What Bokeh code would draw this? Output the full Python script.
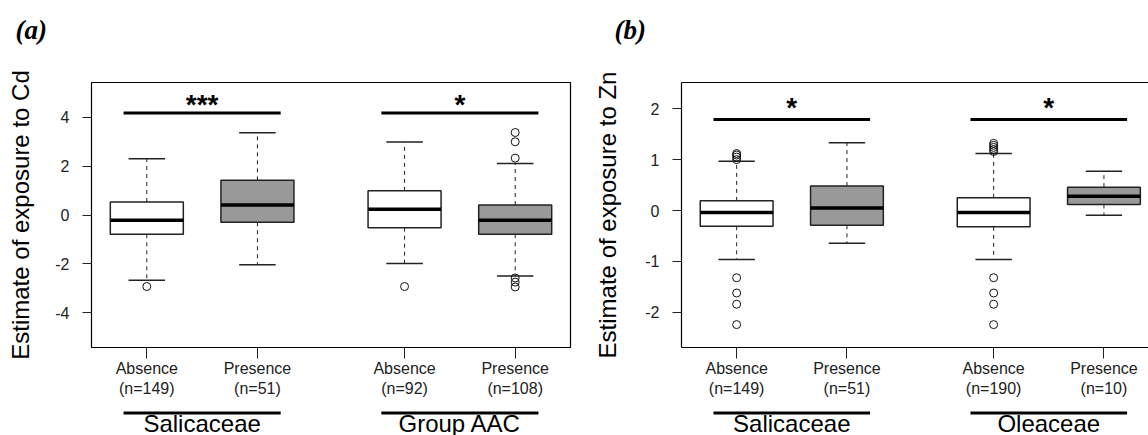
from bokeh.plotting import figure
from bokeh.models import ColumnDataSource, FixedTicker, LinearAxis, Range1d
from bokeh.layouts import row, column
from bokeh.core.properties import value
from bokeh.embed import file_html
from bokeh.resources import INLINE

# ---------------- Panel (a): exposure to Cd ----------------
a_positions = [1, 2, 3.33, 4.33]
a_status = ["Absence", "Presence", "Absence", "Presence"]
a_n = [149, 51, 92, 108]
a_groups = ["Salicaceae", "Group AAC"]
a_signif = ["***", "*"]
a_sig_y = [4.18, 4.18]
a_lower = [-2.67, -2.04, -1.99, -2.50]
a_q1 = [-0.79, -0.30, -0.52, -0.79]
a_median = [-0.22, 0.41, 0.24, -0.22]
a_q3 = [0.53, 1.42, 0.99, 0.41]
a_upper = [2.31, 3.37, 2.99, 2.11]
a_outliers = [[-2.93], [], [-2.93], [2.33, 3.00, 3.38, -2.58, -2.75, -2.95]]
a_yticks = [-4, -2, 0, 2, 4]

# ---------------- Panel (b): exposure to Zn ----------------
b_positions = [1, 2, 3.33, 4.33]
b_status = ["Absence", "Presence", "Absence", "Presence"]
b_n = [149, 51, 190, 10]
b_groups = ["Salicaceae", "Oleaceae"]
b_signif = ["*", "*"]
b_sig_y = [1.79, 1.79]
b_lower = [-0.96, -0.64, -0.96, -0.09]
b_q1 = [-0.31, -0.29, -0.32, 0.12]
b_median = [-0.04, 0.05, -0.04, 0.28]
b_q3 = [0.19, 0.48, 0.25, 0.46]
b_upper = [0.97, 1.33, 1.12, 0.77]
b_outliers = [[1.00, 1.05, 1.09, 1.12, -1.32, -1.62, -1.84, -2.24], [],
              [1.16, 1.20, 1.24, 1.28, 1.32, -1.32, -1.62, -1.84, -2.24], []]
b_yticks = [-2, -1, 0, 1, 2]

panel_letters = ["(a)", "(b)"]

FONT = "Liberation Sans"
FILL = {"Absence": "#ffffff", "Presence": "#999999"}
TOTAL_W = 1148
W_A = 588
W_B = TOTAL_W - W_A
TOP_H = 50
MAIN_H = 352
STRIP_H = 33


def strip(width, height, x_range, bl, br):
    s = figure(width=width, height=height, x_range=x_range, y_range=Range1d(0, height),
               output_backend="svg", toolbar_location=None,
               x_axis_type=None, y_axis_type=None,
               min_border_left=bl, min_border_right=br,
               min_border_top=0, min_border_bottom=0,
               background_fill_color="white", border_fill_color="white")
    s.outline_line_color = None
    s.grid.visible = False
    return s


def build_panel(ylabel, positions, status, n, groups, signif, sig_y,
                lower, q1, med, q3, upper, outliers, yticks, ylim, xlim,
                width, border, ylabel_standoff, star_px, open_right):
    bl, br, bt, bb = border
    frame_h = MAIN_H - bt - bb
    yspan = ylim[1] - ylim[0]
    xr = Range1d(*xlim)

    p = figure(width=width, height=MAIN_H,
               x_range=xr, y_range=Range1d(*ylim),
               output_backend="svg", toolbar_location=None,
               x_axis_type=None, y_axis_type=None,
               min_border_left=bl, min_border_right=br,
               min_border_top=bt, min_border_bottom=bb,
               background_fill_color="white", border_fill_color="white")

    hw = 0.33
    cw = 0.165
    src = ColumnDataSource(dict(
        x=positions, left=[x - hw for x in positions], right=[x + hw for x in positions],
        cl=[x - cw for x in positions], cr=[x + cw for x in positions],
        lower=lower, q1=q1, med=med, q3=q3, upper=upper,
        fill=[FILL[s] for s in status]))

    # whiskers (dashed) and caps
    p.segment(x0="x", x1="x", y0="q3", y1="upper", source=src,
              line_color="#222222", line_width=1, line_dash="4 4")
    p.segment(x0="x", x1="x", y0="q1", y1="lower", source=src,
              line_color="#222222", line_width=1, line_dash="4 4")
    p.segment(x0="cl", x1="cr", y0="upper", y1="upper", source=src,
              line_color="#222222", line_width=1.5)
    p.segment(x0="cl", x1="cr", y0="lower", y1="lower", source=src,
              line_color="#222222", line_width=1.5)
    # boxes and medians
    p.quad(left="left", right="right", bottom="q1", top="q3", source=src,
           fill_color="fill", line_color="#222222", line_width=1.5)
    p.segment(x0="left", x1="right", y0="med", y1="med", source=src,
              line_color="black", line_width=3.5)

    # outliers
    ox = [positions[i] for i, lst in enumerate(outliers) for _ in lst]
    oy = [v for lst in outliers for v in lst]
    p.scatter(ox, oy, marker="circle", size=8, fill_color=None,
              line_color="#111111", line_width=1)

    # significance bars and stars
    gx0 = [positions[0] - 0.21, positions[2] - 0.21]
    gx1 = [positions[1] + 0.21, positions[3] + 0.21]
    gxc = [(positions[0] + positions[1]) / 2, (positions[2] + positions[3]) / 2]
    p.segment(x0=gx0, x1=gx1, y0=sig_y, y1=sig_y, line_color="black", line_width=3)
    star_y = [s + star_px * yspan / frame_h for s in sig_y]
    p.text(x=gxc, y=star_y, text=signif, text_font=value(FONT),
           text_font_style="bold", text_font_size="28px",
           text_align="center", text_baseline="alphabetic", text_color="black")

    # axes
    yaxis = LinearAxis(ticker=FixedTicker(ticks=yticks),
                       major_label_overrides={t_: str(t_) for t_ in yticks},
                       axis_label=ylabel)
    yaxis.major_tick_out = 9
    yaxis.major_tick_in = 0
    yaxis.minor_tick_line_color = None
    yaxis.major_tick_line_color = "#222222"
    yaxis.major_label_text_font = FONT
    yaxis.major_label_text_font_size = "16px"
    yaxis.major_label_text_color = "#222222"
    yaxis.major_label_standoff = 13
    yaxis.axis_label_text_font = FONT
    yaxis.axis_label_text_font_size = "24px"
    yaxis.axis_label_text_font_style = "normal"
    yaxis.axis_label_text_color = "black"
    yaxis.axis_label_standoff = ylabel_standoff
    p.add_layout(yaxis, "left")

    xaxis = LinearAxis(ticker=FixedTicker(ticks=positions),
                       major_label_overrides={positions[i]: f"{status[i]}\n(n={n[i]})"
                                              for i in range(len(positions))})
    xaxis.major_tick_out = 11
    xaxis.major_tick_in = 0
    xaxis.minor_tick_line_color = None
    xaxis.major_tick_line_color = "#222222"
    xaxis.major_label_text_font = FONT
    xaxis.major_label_text_font_size = "16px"
    xaxis.major_label_text_color = "#222222"
    xaxis.major_label_standoff = 1
    p.add_layout(xaxis, "below")

    if open_right:
        p.outline_line_color = None
        yaxis.axis_line_color = "black"
        yaxis.axis_line_width = 1.2
        xaxis.axis_line_color = "black"
        xaxis.axis_line_width = 1.2
        top = LinearAxis(ticker=FixedTicker(ticks=[]))
        top.axis_line_color = "black"
        top.axis_line_width = 1.2
        top.major_tick_out = 0
        top.major_tick_in = 0
        top.minor_tick_line_color = None
        top.major_label_text_font_size = "0px"
        top.major_label_standoff = 0
        p.add_layout(top, "above")
    else:
        p.outline_line_color = "black"
        p.outline_line_width = 1.2
        yaxis.axis_line_color = None
        xaxis.axis_line_color = None
    p.grid.visible = False

    # strip below the axis: group underlines and group names (shares the x scale)
    s = strip(width, STRIP_H, xr, bl, br)
    s.segment(x0=gx0, x1=gx1, y0=[STRIP_H - 10.5] * 2, y1=[STRIP_H - 10.5] * 2,
              line_color="black", line_width=3)
    s.text(x=gxc, y=[12.0] * 2, text=groups, text_font=value(FONT),
           text_font_size="24px", text_align="center", text_baseline="alphabetic",
           text_color="black")
    return column(p, s, spacing=0)


# panel letters across the top
top = strip(TOTAL_W, TOP_H, Range1d(0, TOTAL_W), 0, 0)
top.text(x=[15, W_A + 26], y=[21, 21], text=panel_letters,
         text_font=value("Liberation Serif"), text_font_style="bold italic",
         text_font_size="27px", text_align="left", text_baseline="alphabetic",
         text_color="black")

pa = build_panel("Estimate of exposure to Cd", a_positions, a_status, a_n,
                 a_groups, a_signif, a_sig_y, a_lower, a_q1, a_median, a_q3, a_upper,
                 a_outliers, a_yticks, (-5.43, 5.43), (0.5, 4.83),
                 W_A, (91, 18, 32, 55), 18, 9, False)
pb = build_panel("Estimate of exposure to Zn", b_positions, b_status, b_n,
                 b_groups, b_signif, b_sig_y, b_lower, b_q1, b_median, b_q3, b_upper,
                 b_outliers, b_yticks, (-2.69, 2.515), (0.5, 4.734),
                 W_B, (93, 0, 32, 55), 21, 12, True)

layout = column(top, row(pa, pb, spacing=0), spacing=0)
open("out.html", "w").write(file_html(layout, INLINE))
